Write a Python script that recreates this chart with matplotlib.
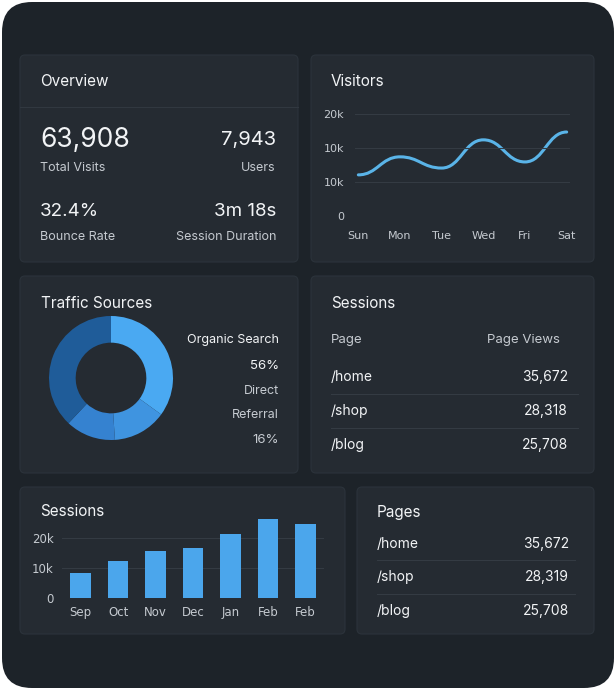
import numpy as np
import matplotlib.pyplot as plt
from matplotlib.patches import FancyBboxPatch
from matplotlib.path import Path
from matplotlib.patches import PathPatch

W, H = 616, 690
BG = '#1d2329'
CARD = '#252b32'
TXT = '#f2f4f6'
SUB = '#c5cad0'
GRID = '#343b43'

# data
days = ['Sun', 'Mon', 'Tue', 'Wed', 'Fri', 'Sat']
visitors = [1.21, 1.74, 1.41, 2.24, 1.59, 2.47]
vis_ticks = [0, 1, 2, 3]
vis_tick_labels = ['0', '10k', '10k', '20k']
months = ['Sep', 'Oct', 'Nov', 'Dec', 'Jan', 'Feb', 'Feb']
sessions = [8.3, 12.3, 15.7, 16.7, 21.3, 26.3, 24.7]
traffic = [35, 14, 13, 38]
traffic_colors = ['#4aa9f2', '#3f94e0', '#3582d0', '#1f5c99']
pages = ['/home', '/shop', '/blog']
views1 = ['35,672', '28,318', '25,708']
views2 = ['35,672', '28,319', '25,708']

fig = plt.figure(figsize=(W / 100, H / 100), dpi=100)
fig.patch.set_facecolor('white')
bg = fig.add_axes([0, 0, 1, 1])
bg.set_xlim(0, W)
bg.set_ylim(H, 0)
bg.axis('off')

bg.add_patch(FancyBboxPatch((2, 2), W - 4, H - 4, boxstyle='round,pad=0,rounding_size=30',
                            fc=BG, ec='none'))

def card(x0, y0, x1, y1):
    bg.add_patch(FancyBboxPatch((x0, y0), x1 - x0, y1 - y0, boxstyle='round,pad=0,rounding_size=5',
                                fc=CARD, ec='#2c333b', lw=0.8))

def txt(x, y, s, size=9, color=SUB, ha='left', weight='normal'):
    bg.text(x, y, s, fontsize=size, color=color, ha=ha, va='center', weight=weight,
            family='Inter')

def pax(x0, y0, x1, y1):
    ax = fig.add_axes([x0 / W, 1 - y1 / H, (x1 - x0) / W, (y1 - y0) / H])
    ax.set_facecolor('none')
    return ax

# Overview
card(20, 55, 298, 262)
txt(40, 82, 'Overview', 11, TXT)
bg.plot([20, 298], [107, 107], color='#313840', lw=0.8)
txt(40, 140, '63,908', 19, TXT)
txt(40, 168, 'Total Visits', 9)
txt(276, 140, '7,943', 14.5, TXT, ha='right')
txt(276, 168, 'Users', 9, ha='right')
txt(40, 212, '32.4%', 13.5, TXT)
txt(40, 237, 'Bounce Rate', 9)
txt(276, 212, '3m 18s', 13.5, TXT, ha='right')
txt(276, 237, 'Session Duration', 9, ha='right')

# Visitors
card(311, 55, 594, 262)
txt(331, 82, 'Visitors', 11, TXT)
ax = pax(355, 114, 570, 216)
x = np.arange(len(days))
verts = [(x[0], visitors[0])]
codes = [Path.MOVETO]
for i in range(1, len(days)):
    d = (x[i] - x[i - 1]) / 2.2
    verts += [(x[i - 1] + d, visitors[i - 1]), (x[i] - d, visitors[i]), (x[i], visitors[i])]
    codes += [Path.CURVE4] * 3
ax.add_patch(PathPatch(Path(verts, codes), fc='none', ec='#5ab4e8', lw=2.2, capstyle='round'))
ax.set_xlim(-0.08, 5.08)
ax.set_ylim(0, 3)
ax.set_yticks(vis_ticks)
ax.set_yticklabels(vis_tick_labels)
ax.set_xticks(x)
ax.set_xticklabels(days)
ax.grid(axis='y', color=GRID, lw=0.8)
for s in ax.spines.values():
    s.set_visible(False)
ax.tick_params(colors=SUB, labelsize=8, length=0)
ax.tick_params(axis='x', pad=11)
ax.tick_params(axis='y', pad=8)

# Traffic Sources
card(20, 276, 298, 473)
txt(41, 303, 'Traffic Sources', 11, TXT)
ax = pax(49, 316, 173, 440)
ax.pie(traffic, colors=traffic_colors, startangle=90, counterclock=False,
       wedgeprops=dict(width=0.43, edgecolor='none'))
ax.set_xlim(-1, 1)
ax.set_ylim(-1, 1)
ax.set_aspect('equal')
txt(279, 340, 'Organic Search', 9, TXT, ha='right')
txt(279, 366, '56%', 9.5, TXT, ha='right')
txt(279, 391, 'Direct', 9, ha='right')
txt(279, 415, 'Referral', 9, ha='right')
txt(279, 440, '16%', 9.5, ha='right')

# Sessions table
card(311, 276, 594, 473)
txt(331, 303, 'Sessions', 11, TXT)
txt(331, 340, 'Page', 9.5)
txt(560, 340, 'Page Views', 9.5, ha='right')
for i, (p, v) in enumerate(zip(pages, views1)):
    yy = 377 + i * 34
    txt(331, yy, p, 10, TXT)
    txt(568, yy, v, 10, TXT, ha='right')
    if i < 2:
        bg.plot([331, 578], [yy + 17, yy + 17], color='#343b43', lw=0.8)

# Sessions bars
card(20, 487, 345, 634)
txt(40, 512, 'Sessions', 11, TXT)
ax = pax(62, 523, 324, 598)
xb = np.arange(len(months))
ax.bar(xb, sessions, width=0.55, color='#4ba6ec')
ax.set_xlim(-0.5, len(months) - 0.5)
ax.set_ylim(0, 25)
ax.set_yticks([0, 10, 20])
ax.set_yticklabels(['0', '10k', '20k'])
ax.set_xticks(xb)
ax.set_xticklabels(months)
ax.grid(axis='y', color=GRID, lw=0.8)
ax.set_axisbelow(True)
for s in ax.spines.values():
    s.set_visible(False)
ax.tick_params(colors=SUB, labelsize=8.5, length=0, pad=6)
for b in ax.patches:
    b.set_clip_on(False)

# Pages
card(357, 487, 594, 634)
txt(377, 512, 'Pages', 11, TXT)
for i, (p, v) in enumerate(zip(pages, views2)):
    yy = 544 + i * 33.5
    txt(377, yy, p, 10, TXT)
    txt(569, yy, v, 10, TXT, ha='right')
    if i < 2:
        bg.plot([377, 575], [yy + 16, yy + 16], color='#343b43', lw=0.8)

fig.savefig('out.png', dpi=100, facecolor=fig.get_facecolor())
